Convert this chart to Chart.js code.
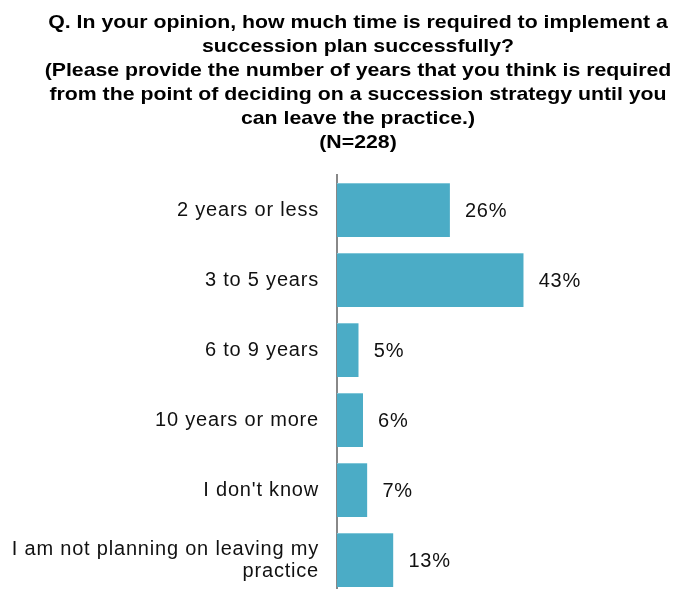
<!DOCTYPE html>
<html>
<head>
<meta charset="utf-8">
<script src="https://cdn.jsdelivr.net/npm/chart.js@4.4.1/dist/chart.umd.min.js"></script>
<style>
  html, body { margin: 0; padding: 0; background: #fff; overflow: hidden; }
  /* plot runs slightly past the bottom edge of the page */
  #wrap { width: 680px; height: 595px; position: relative; }
</style>
</head>
<body>
<div id="wrap"><canvas id="chart"></canvas></div>
<script>
  // Survey answers, in the order they appear top to bottom
  const categories = [
    '2 years or less',
    '3 to 5 years',
    '6 to 9 years',
    '10 years or more',
    "I don't know",
    ['I am not planning on leaving my', 'practice']
  ];
  const percents = [26, 43, 5, 6, 7, 13];

  const titleLines = [
    'Q. In your opinion, how much time is required to implement a',
    'succession plan successfully?',
    '(Please provide the number of years that you think is required',
    'from the point of deciding on a succession strategy until you',
    'can leave the practice.)',
    '(N=228)'
  ];

  const FONT = "'Liberation Sans', Arial, sans-serif";

  // slightly loose text spacing for axis and value labels
  const textSpacing = {
    id: 'textSpacing',
    beforeDraw(chart) { chart.ctx.letterSpacing = '0.8px'; },
    afterDraw(chart) { chart.ctx.letterSpacing = '0px'; }
  };

  // percentage text to the right of each bar
  const valueLabels = {
    id: 'valueLabels',
    afterDatasetsDraw(chart) {
      const ctx = chart.ctx;
      const meta = chart.getDatasetMeta(0);
      ctx.save();
      ctx.font = '20px ' + FONT;
      ctx.fillStyle = '#111';
      ctx.textAlign = 'left';
      ctx.textBaseline = 'middle';
      meta.data.forEach((bar, i) => {
        ctx.fillText(percents[i] + '%', bar.x + 15, bar.y + 1);
      });
      ctx.restore();
    }
  };

  // wide bold question text above the plot
  const questionTitle = {
    id: 'questionTitle',
    afterDraw(chart) {
      const ctx = chart.ctx;
      ctx.save();
      ctx.letterSpacing = '0px';
      ctx.font = 'bold 19px ' + FONT;
      ctx.fillStyle = '#000';
      ctx.textAlign = 'center';
      ctx.textBaseline = 'alphabetic';
      titleLines.forEach((line, i) => {
        ctx.save();
        ctx.translate(358, 28 + i * 24);
        ctx.scale(1.12, 1);
        ctx.fillText(line, 0, 0);
        ctx.restore();
      });
      ctx.restore();
    }
  };

  new Chart(document.getElementById('chart'), {
    type: 'bar',
    data: {
      labels: categories,
      datasets: [{
        data: percents,
        backgroundColor: '#4BACC6',
        borderColor: '#7FC6D8',
        borderWidth: { top: 1, right: 0, bottom: 0, left: 0 },
        borderSkipped: false,
        categoryPercentage: 1,
        barPercentage: 0.77
      }]
    },
    options: {
      indexAxis: 'y',
      responsive: true,
      maintainAspectRatio: false,
      animation: false,
      layout: { padding: { left: 0, right: 0, top: 175, bottom: 0 } },
      plugins: {
        legend: { display: false },
        tooltip: { enabled: false },
        title: { display: false }
      },
      scales: {
        x: { display: false, min: 0, max: 79 },
        y: {
          grid: { display: false, drawTicks: false },
          border: { display: true, color: '#888', width: 2 },
          ticks: {
            color: '#111',
            padding: 18,
            font: { family: FONT, size: 20, lineHeight: 1.1 }
          },
          afterFit(scale) {
            scale.width = 337;
            scale.paddingTop = 0;
            scale.paddingBottom = 0;
          }
        }
      }
    },
    plugins: [textSpacing, valueLabels, questionTitle]
  });
</script>
</body>
</html>
